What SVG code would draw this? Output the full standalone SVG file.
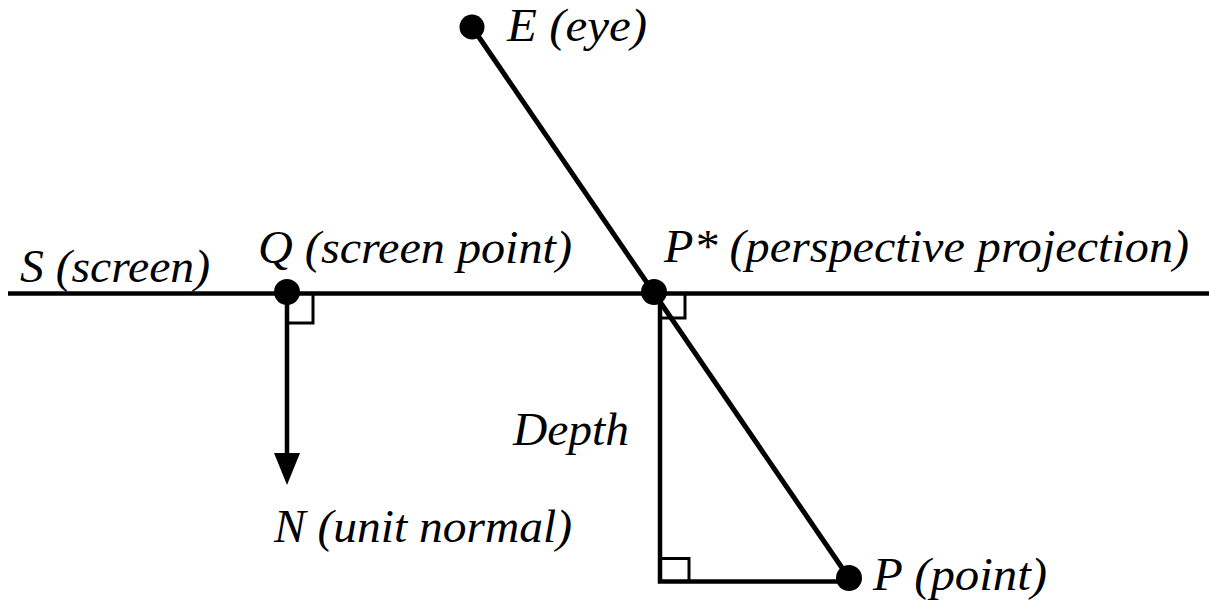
<svg xmlns="http://www.w3.org/2000/svg" width="1209" height="601" viewBox="0 0 1209 601">
<style>
.t{font-family:"Liberation Serif","Times New Roman",serif;font-style:italic;font-size:47px;fill:#000}
.ln{stroke:#000;fill:none;stroke-linecap:butt}
.sq{stroke:#000;fill:none;stroke-width:3}
.dot{fill:#000}
</style>
<rect width="1209" height="601" fill="#fff"/>
<g id="connectors">
<line class="ln" x1="8" y1="293.5" x2="1209" y2="293.5" stroke-width="4.5"/>
<line class="ln" x1="472" y1="27" x2="849" y2="578" stroke-width="5"/>
<line class="ln" x1="287" y1="293" x2="287" y2="456" stroke-width="4.5"/>
<polygon points="274,453 300,453 287,485" fill="#000"/>
<polyline class="ln" points="660,293 660,581.5 849,581.5" stroke-width="4.5"/>
<polyline class="sq" points="287,323 313,323 313,293"/>
<polyline class="sq" points="660,318 685,318 685,293"/>
<polyline class="sq" points="660,558.5 689,558.5 689,581"/>
</g>
<g id="screen"><text class="t" x="20" y="282" textLength="190" lengthAdjust="spacingAndGlyphs">S (screen)</text></g>
<g id="Q"><circle class="dot" cx="287" cy="292" r="13"/><text class="t" x="258" y="263" textLength="314" lengthAdjust="spacingAndGlyphs">Q (screen point)</text></g>
<g id="Pstar"><circle class="dot" cx="654" cy="292" r="13"/><text class="t" x="664" y="262" textLength="525" lengthAdjust="spacingAndGlyphs">P* (perspective projection)</text></g>
<g id="E"><circle class="dot" cx="472" cy="27" r="12.5"/><text class="t" x="507" y="41" textLength="140" lengthAdjust="spacingAndGlyphs">E (eye)</text></g>
<g id="P"><circle class="dot" cx="849" cy="578" r="13"/><text class="t" x="873" y="590" textLength="174" lengthAdjust="spacingAndGlyphs">P (point)</text></g>
<g id="depth"><text class="t" x="513" y="445" textLength="116" lengthAdjust="spacingAndGlyphs">Depth</text></g>
<g id="N"><text class="t" x="274" y="542" textLength="298" lengthAdjust="spacingAndGlyphs">N (unit normal)</text></g>
</svg>
